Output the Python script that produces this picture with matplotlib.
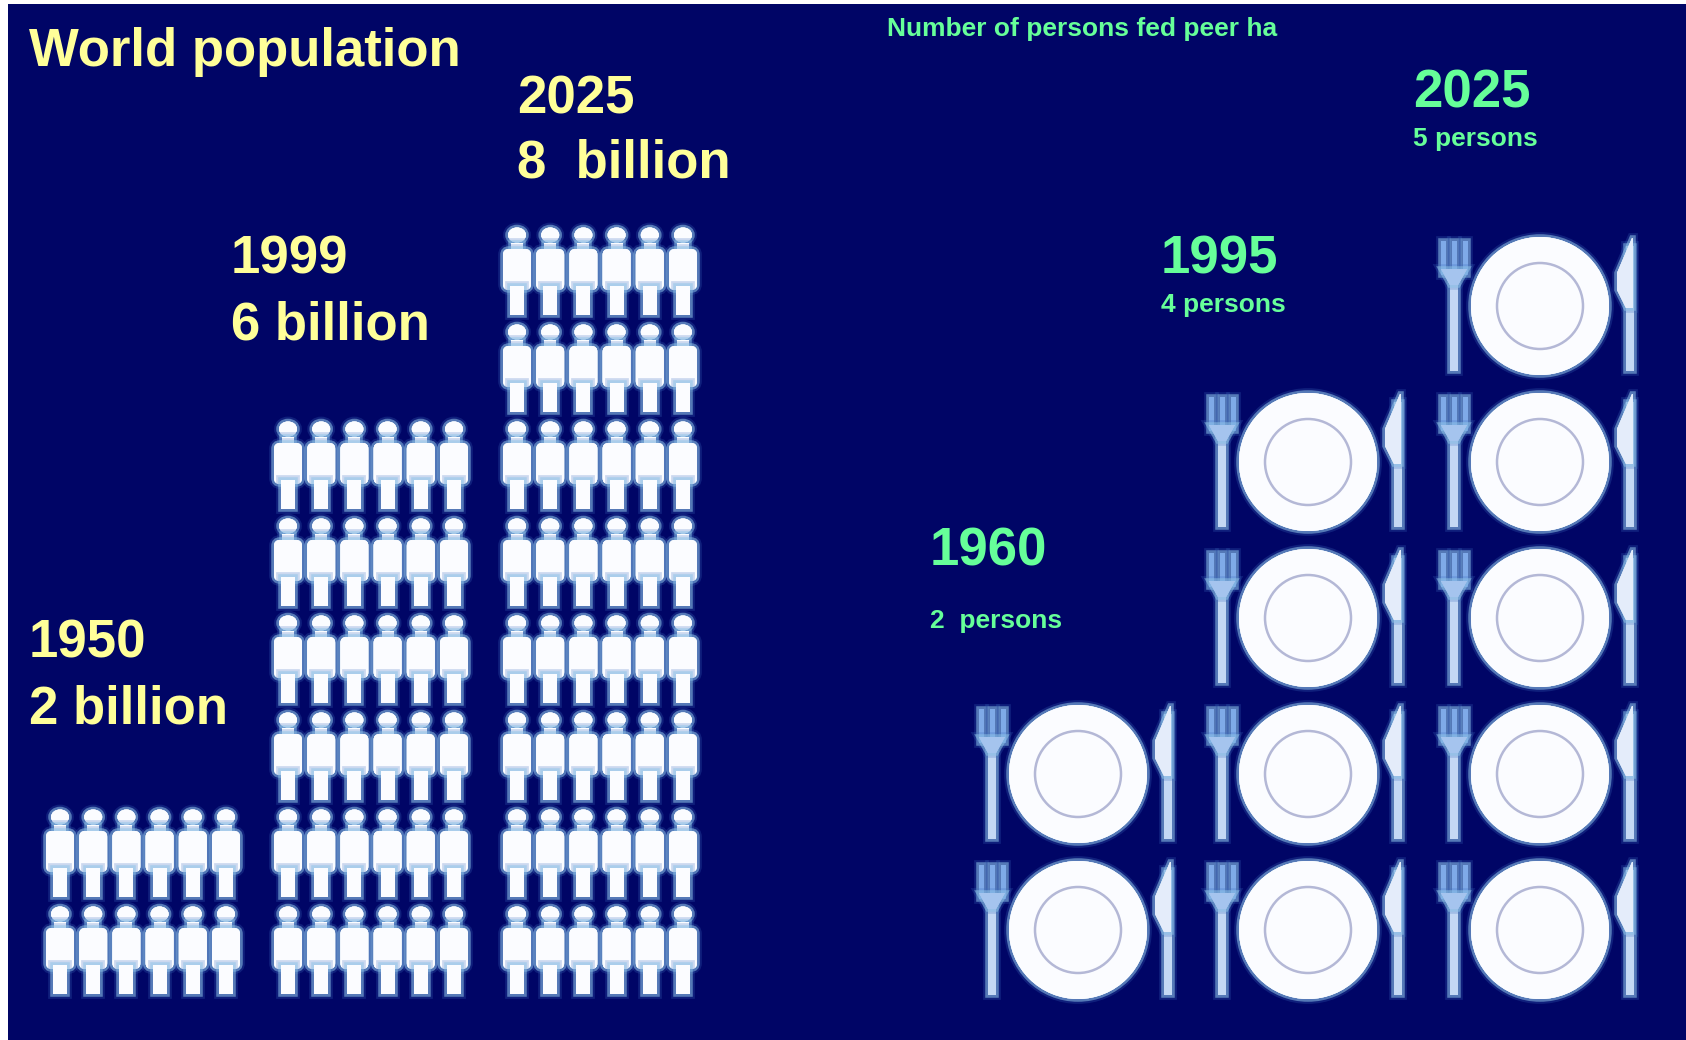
import matplotlib
matplotlib.use("Agg")
import matplotlib.pyplot as plt
import matplotlib.patheffects as pe
from matplotlib.patches import Circle, Ellipse, FancyBboxPatch, PathPatch, Rectangle
from matplotlib.path import Path

plt.rcParams["font.family"] = ["Liberation Sans", "DejaVu Sans"]

# population side, one row of figures per billion
pop_years = ["1950", "1999", "2025"]
pop_labels = ["2 billion", "6 billion", "8  billion"]
pop_billions = [2, 6, 8]

# persons fed per hectare, one plate per person
food_years = ["1960", "1995", "2025"]
food_labels = ["2  persons", "4 persons", "5 persons"]
food_persons = [2, 4, 5]

NAVY = "#000566"
YELLOW = "#FFFF99"
GREEN = "#66FF99"
WHITE = "#FBFCFF"

fig = plt.figure(figsize=(16.86, 10.4), dpi=100, facecolor="white")
ax = fig.add_axes([0, 0, 1, 1])
ax.set_xlim(0, 1686)
ax.set_ylim(1040, 0)
ax.axis("off")
ax.add_patch(Rectangle((8, 4), 1678, 1036, fc=NAVY, ec="none", zorder=0))

# soft edge around the icons
soft = [
    pe.withStroke(linewidth=7, foreground="#3F6FC0", alpha=0.25),
    pe.withStroke(linewidth=4, foreground="#8FC4E8", alpha=0.55),
    pe.Normal(),
]


def add_soft(patch):
    patch.set_path_effects(soft)
    ax.add_patch(patch)


def draw_person(cx, top):
    style = dict(fc=WHITE, ec="none", zorder=3)
    add_soft(Ellipse((cx, top + 9), 18, 15, **style))
    add_soft(Rectangle((cx - 6, top + 17), 12, 6, **style))
    add_soft(FancyBboxPatch((cx - 12, top + 25), 24, 37,
                            boxstyle="round,pad=2,rounding_size=6", **style))
    add_soft(Rectangle((cx - 7, top + 60), 14, 29, **style))


def draw_fork(cx, top):
    style = dict(fc="#C4D8F4", ec="none", zorder=3)
    add_soft(Rectangle((cx - 4, top + 40), 8, 90, **style))
    for dx in (-11, 0, 11):
        add_soft(Rectangle((cx + dx - 2.5, top), 5, 34, fc="#7FAAE8", ec="none", zorder=3))
    verts = [(cx - 13, top + 28), (cx + 13, top + 28), (cx + 4, top + 44), (cx - 4, top + 44), (cx - 13, top + 28)]
    codes = [Path.MOVETO, Path.LINETO, Path.LINETO, Path.LINETO, Path.CLOSEPOLY]
    add_soft(PathPatch(Path(verts, codes), fc="#A5C4EE", ec="none", zorder=3))


def draw_knife(cx, top):
    add_soft(Rectangle((cx - 3, top + 8), 8, 125, fc="#C4D8F4", ec="none", zorder=3))
    verts = [(cx + 3, top), (cx - 12, top + 35), (cx - 12, top + 52), (cx - 3, top + 70),
             (cx + 4, top + 70), (cx + 4, top), (cx + 3, top)]
    codes = [Path.MOVETO, Path.LINETO, Path.LINETO, Path.LINETO, Path.LINETO, Path.LINETO, Path.CLOSEPOLY]
    add_soft(PathPatch(Path(verts, codes), fc="#E4ECFA", ec="none", zorder=3))


def draw_setting(cx, cy):
    add_soft(Circle((cx, cy), 69, fc=WHITE, ec="none", zorder=3))
    ax.add_patch(Circle((cx, cy), 43, fc="none", ec="#B4B8D6", lw=1.8, zorder=4))
    draw_fork(cx - 86, cy - 65)
    draw_knife(cx + 89, cy - 68)


# figures, counted up from the bottom row
pop_x = [60, 288, 517]
for x0, billions in zip(pop_x, pop_billions):
    for row in range(billions):
        for col in range(6):
            draw_person(x0 + col * 33.2, 905 - row * 97)

# plates, same idea
food_x = [1078, 1308, 1540]
for x0, persons in zip(food_x, food_persons):
    for row in range(persons):
        draw_setting(x0, 930 - row * 156)

# text
big = dict(fontsize=38, fontweight="bold", va="baseline", ha="left", zorder=5)
small = dict(fontsize=19, fontweight="bold", va="baseline", ha="left", color=GREEN, zorder=5)

ax.text(29, 66, "World population", color=YELLOW, **big)
ax.text(887, 36, "Number of persons fed peer ha", **small)

pop_text = [(29, 658, 723), (231, 274, 339), (517, 114, 178)]
for (x, y1, y2), year, label in zip(pop_text, pop_years, pop_labels):
    ax.text(x, y1, year, color=YELLOW, **big)
    ax.text(x, y2, label, color=YELLOW, **big)

food_text = [(930, 566, 628), (1161, 274, 312), (1413, 108, 146)]
for (x, y1, y2), year, label in zip(food_text, food_years, food_labels):
    ax.text(x, y1, year, color=GREEN, **big)
    ax.text(x, y2, label, **small)

fig.savefig("out.png", dpi=100, facecolor="white")
